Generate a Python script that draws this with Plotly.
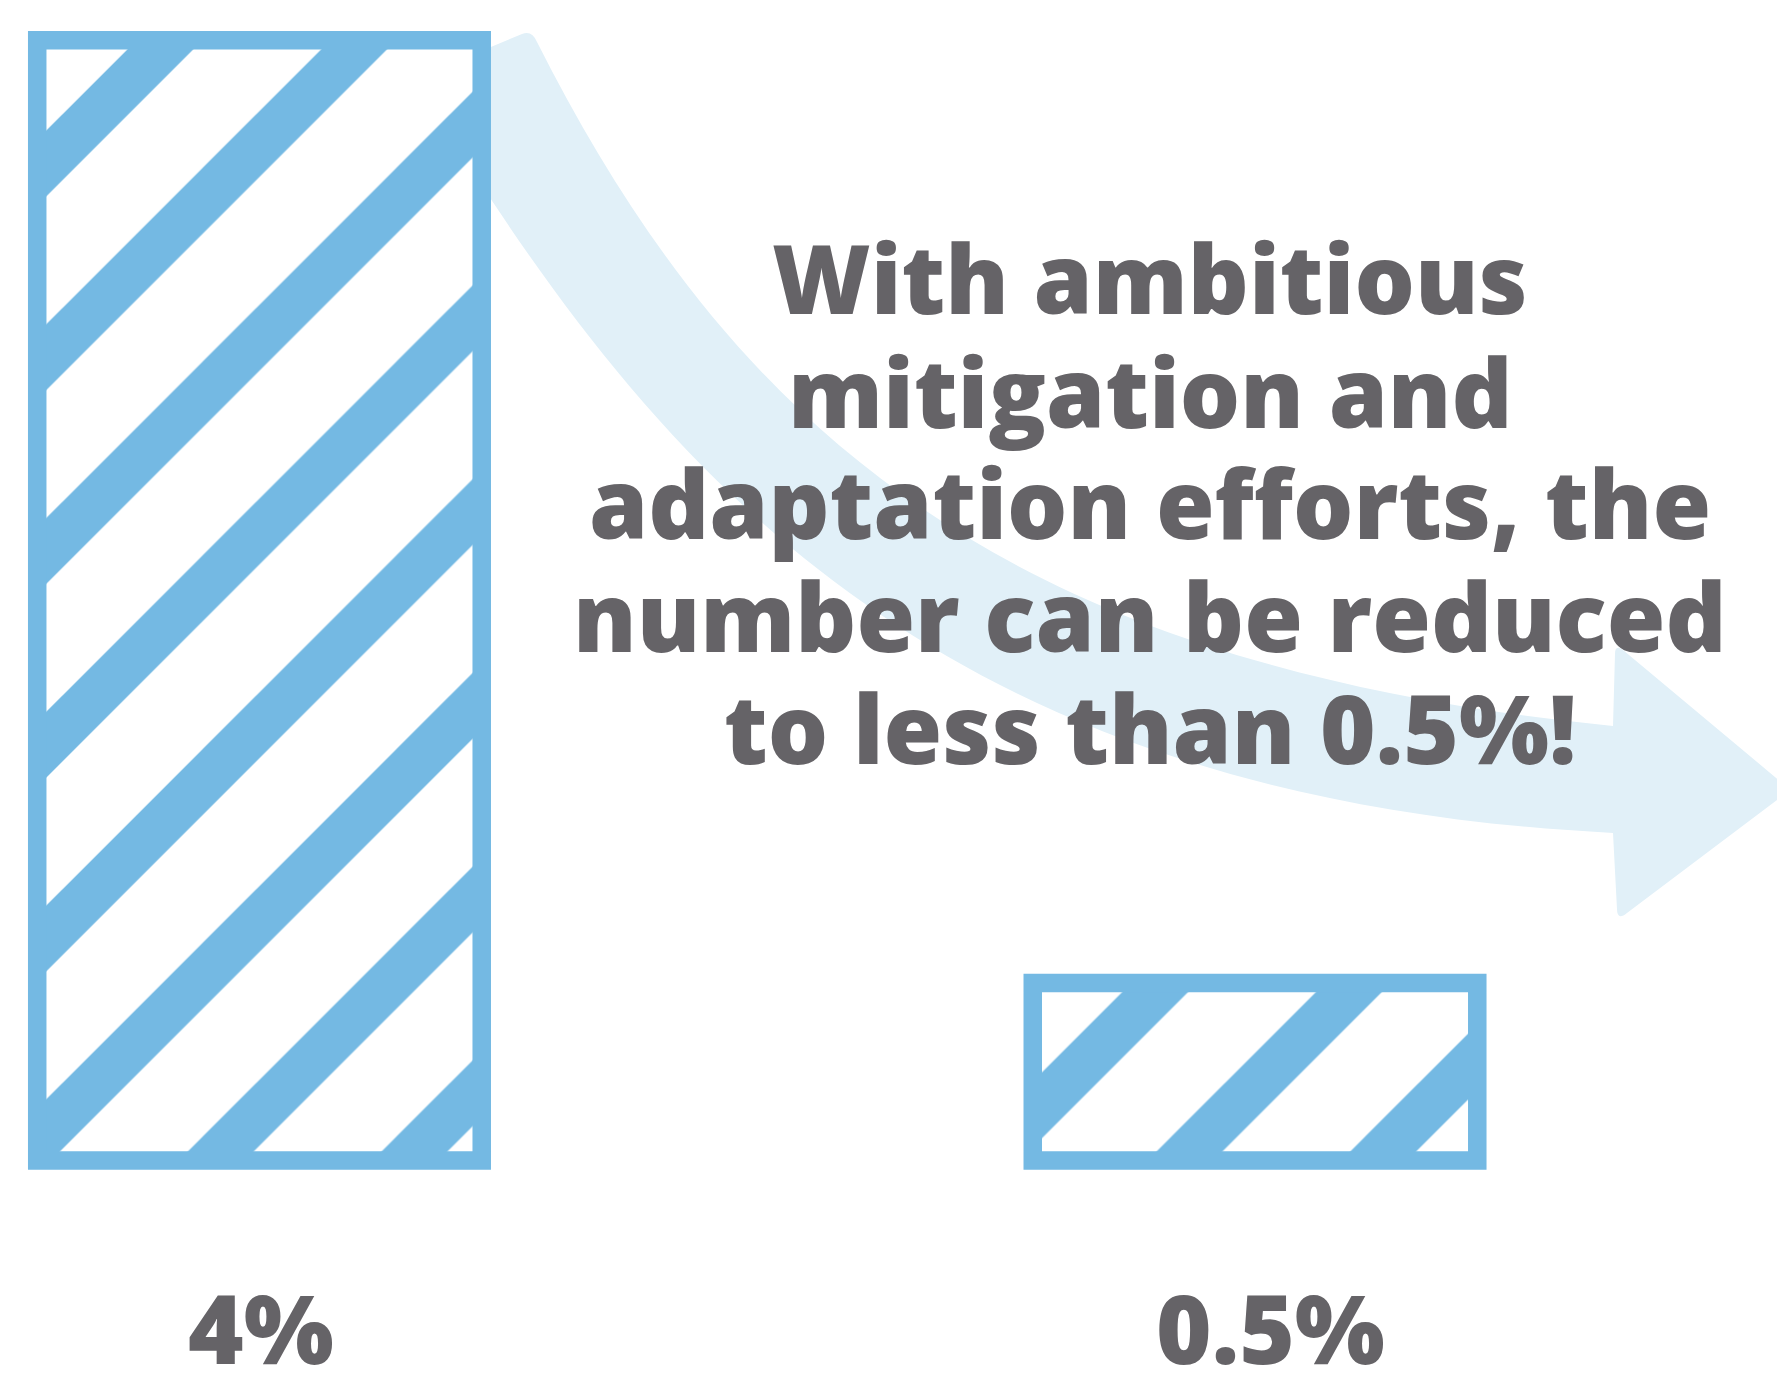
import plotly.graph_objects as go

# --- data ---
labels = ["4%", "0.5%"]
values = [4.0, 0.5]
headline = [
    "With ambitious",
    "mitigation and",
    "adaptation efforts, the",
    "number can be reduced",
    "to less than 0.5%!",
]

W, H = 1785, 1376
OFF = 8  # page body margin around the plot div
FONT = "Open Sans"
TEXT_COLOR = "#656367"
BAR_BLUE = "#74B9E3"
ARROW_BLUE = "#E1F0F8"
FS = 95

# log scale so the small bar keeps a readable height (axis floor ~0.338)
FLOOR = 0.338
Y_RANGE = [-0.6852, 0.6329]
X_RANGE = [-0.2526, 1.5404]


def px(x, y):
    """screen pixel -> paper coords"""
    return (x - OFF) / W, 1 - (y - OFF) / H


def fmt(*pts):
    return " ".join(f"{px(*p)[0]:.5f},{px(*p)[1]:.5f}" for p in pts)


def L(x, y):
    return " L" + fmt((x, y))


def Q(c, p):
    return " Q" + fmt(c, p)


def C(c1, c2, p):
    return " C" + fmt(c1, c2, p)


# curved arrow body: one cubic per edge
arrow_path = "M" + fmt((455, 62)) + L(522, 34) + Q((532, 30), (537, 42))
arrow_path += C((739, 442), (1016, 666), (1613, 726))
arrow_path += L(1615, 654) + Q((1615, 644), (1623, 650))
arrow_path += L(1781, 782) + Q((1790, 789), (1781, 797))
arrow_path += L(1627, 913) + Q((1617, 921), (1617, 909))
arrow_path += L(1613, 833)
arrow_path += C((964, 800), (686, 503), (470, 167))
arrow_path += " Z"

fig = go.Figure()
fig.add_trace(go.Bar(
    x=[0, 1],
    y=[v - FLOOR for v in values],
    base=[FLOOR] * len(values),
    width=0.4465,
    customdata=values,
    hovertemplate="%{customdata}%<extra></extra>",
    marker=dict(
        color="white",
        line=dict(color=BAR_BLUE, width=18.5),
        pattern=dict(shape="/", fgcolor=BAR_BLUE, bgcolor="white",
                     size=137, solidity=0.34, fillmode="replace"),
    ),
))

fig.add_shape(type="path", path=arrow_path, xref="paper", yref="paper",
              fillcolor=ARROW_BLUE, line=dict(width=0), layer="below")

# headline, one annotation per line so the leading is tight
baselines = [313, 427, 538, 651, 763]
for text, base in zip(headline, baselines):
    top = base - 1.069 * FS - 1
    fig.add_annotation(x=px(1150, 0)[0], y=px(0, top)[1], xref="paper", yref="paper",
                       text=text, showarrow=False, xanchor="center", yanchor="top",
                       font=dict(family=FONT, size=FS, color=TEXT_COLOR, weight=800))

# value labels under the bars
for i, (lab, shift) in enumerate(zip(labels, [2, 15])):
    top = 1363 - 1.069 * FS - 1
    fig.add_annotation(x=i, y=px(0, top)[1], xref="x", yref="paper",
                       text=lab, showarrow=False, xanchor="center", yanchor="top",
                       xshift=shift,
                       font=dict(family=FONT, size=FS, color=TEXT_COLOR, weight=800))

fig.update_layout(
    width=W, height=H, autosize=False,
    margin=dict(l=0, r=0, t=0, b=0),
    paper_bgcolor="white", plot_bgcolor="white",
    showlegend=False,
    xaxis=dict(range=X_RANGE, visible=False, fixedrange=True),
    yaxis=dict(type="log", range=Y_RANGE, visible=False, fixedrange=True),
)

fig.write_html("out.html")
